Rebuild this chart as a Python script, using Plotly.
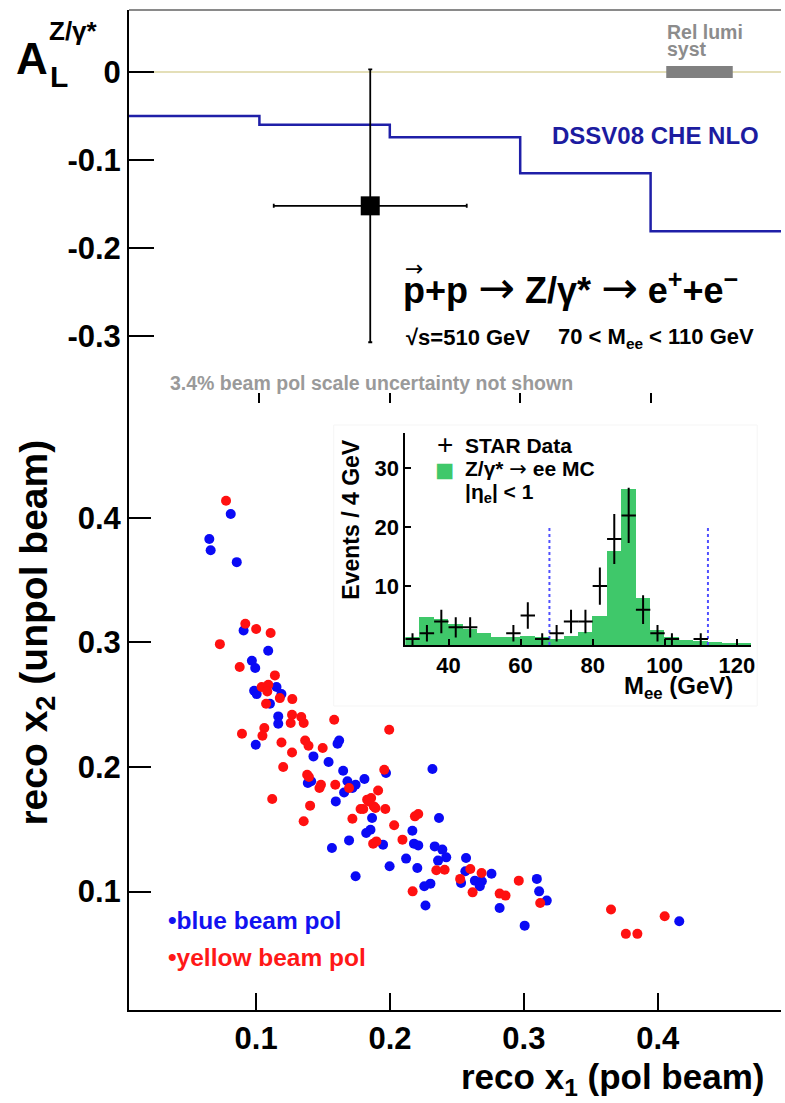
import plotly.graph_objects as go

# ---------------- data ----------------
# top panel: A_L measurement
al_x = [0.185]
al_y = [-0.152]
al_xerr = [0.074]
al_yerr = [0.155]

# DSSV08 CHE NLO theory steps
theory_edges = [0.0, 0.1, 0.2, 0.3, 0.4, 0.5]
theory_al = [-0.050, -0.060, -0.074, -0.115, -0.181]

# relative luminosity systematic band (x extent, half height around 0)
rel_lumi_x = [0.412, 0.463]
rel_lumi_half = 0.0068

# bottom panel: reco x1 vs reco x2
blue_x1 = [0.081, 0.065, 0.066, 0.0855, 0.0906, 0.109, 0.0968, 0.0993, 0.1152, 0.0985,
           0.1004, 0.1189, 0.1103, 0.1165, 0.1165, 0.0997, 0.162, 0.1608, 0.1428, 0.1541,
           0.165, 0.1386, 0.1411, 0.1682, 0.1743, 0.1719, 0.1809, 0.1657, 0.1595, 0.2317,
           0.197, 0.1866, 0.2366, 0.1854, 0.1822, 0.2167, 0.1948, 0.2179, 0.2211, 0.2334,
           0.2391, 0.242, 0.2359, 0.212, 0.1997, 0.2204, 0.2568, 0.2563, 0.2758, 0.2531,
           0.2634, 0.2686, 0.2671, 0.2302, 0.2256, 0.3097, 0.3114, 0.3171, 0.2265, 0.2819,
           0.3006, 0.1566, 0.1694, 0.1743, 0.4161]
blue_x2 = [0.403, 0.383, 0.374, 0.3644, 0.3095, 0.2933, 0.2852, 0.2794, 0.2642, 0.2612,
           0.2585, 0.2585, 0.2508, 0.2406, 0.2347, 0.2179, 0.2213, 0.2187, 0.2085, 0.204,
           0.197, 0.1872, 0.1885, 0.1885, 0.1858, 0.1832, 0.1904, 0.1796, 0.1724, 0.1984,
           0.1952, 0.1591, 0.1591, 0.1497, 0.1471, 0.1489, 0.1377, 0.1385, 0.1371, 0.1363,
           0.1337, 0.1275, 0.1249, 0.1265, 0.1203, 0.119, 0.127, 0.1163, 0.1144, 0.107,
           0.1088, 0.1083, 0.1043, 0.1064, 0.1043, 0.1102, 0.1002, 0.0928, 0.0888, 0.0869,
           0.0727, 0.135, 0.1411, 0.1123, 0.0762]

red_x1 = [0.0775, 0.0919, 0.100, 0.1108, 0.0729, 0.0877, 0.114, 0.1041, 0.1091, 0.1083,
          0.1177, 0.127, 0.1074, 0.1268, 0.1337, 0.1355, 0.1258, 0.1583, 0.1061, 0.1047,
          0.0894, 0.1189, 0.1366, 0.1391, 0.1268, 0.1497, 0.1202, 0.1381, 0.1394, 0.1484,
          0.1473, 0.1591, 0.1694, 0.112, 0.1403, 0.178, 0.1719, 0.1355, 0.1994, 0.1957,
          0.1911, 0.1829, 0.1859, 0.1842, 0.180, 0.1879, 0.1891, 0.1965, 0.2186, 0.2211,
          0.2031, 0.2093, 0.1874, 0.1898, 0.2346, 0.2408, 0.260, 0.2684, 0.2524, 0.2169,
          0.2617, 0.2819, 0.2863, 0.2962, 0.3122, 0.3651, 0.3762, 0.3848, 0.4052]
red_x2 = [0.4136, 0.3149, 0.3107, 0.3075, 0.2986, 0.2802, 0.2735, 0.2642, 0.266, 0.2606,
          0.2553, 0.2545, 0.2508, 0.2419, 0.2401, 0.2353, 0.2353, 0.2379, 0.2313, 0.2251,
          0.2267, 0.2197, 0.2213, 0.2171, 0.2117, 0.2152, 0.200, 0.1938, 0.192, 0.1858,
          0.1832, 0.1858, 0.1832, 0.1743, 0.169, 0.1663, 0.1585, 0.1564, 0.2299, 0.1978,
          0.1812, 0.1738, 0.1751, 0.1724, 0.1663, 0.1684, 0.1671, 0.1663, 0.1604, 0.1623,
          0.1532, 0.1417, 0.1385, 0.1403, 0.1171, 0.1176, 0.1182, 0.115, 0.1102, 0.1002,
          0.0994, 0.0984, 0.0968, 0.1088, 0.0909, 0.0856, 0.0661, 0.0661, 0.0802]

# inset: invariant mass
mc_bin_left = [28, 32, 36, 40, 44, 48, 52, 56, 60, 64, 68, 72,
               76, 80, 84, 88, 92, 96, 100, 104, 108, 112, 116, 120]
mc_counts = [1.4, 4.8, 4.5, 3.6, 2.8, 2.0, 1.3, 1.3, 1.5, 1.3, 1.1, 1.5,
             2.2, 5.0, 16.0, 26.5, 8.0, 2.5, 1.3, 0.8, 0.6, 0.5, 0.4, 0.3]
bin_width = 4
data_mass = [30, 34, 38, 42, 46, 58, 62, 66, 70, 74, 78, 82, 86, 90, 94, 98, 102, 110]
data_counts = [1, 2, 4, 3, 3, 2, 5, 1, 2, 4, 4, 10, 18, 22, 6, 2, 1, 1]
data_err = [1.0, 1.41, 2.0, 1.73, 1.73, 1.41, 2.24, 1.0, 1.41, 2.0, 2.0, 3.16, 4.24, 4.69,
            2.45, 1.41, 1.0, 1.0]
mass_cut_lines = [68, 112]
mass_cut_top = 20

x_ticks = [0.1, 0.2, 0.3, 0.4]
al_ticks = [0, -0.1, -0.2, -0.3]
al_ticktext = ["0", "-0.1", "-0.2", "-0.3"]
x2_ticks = [0.1, 0.2, 0.3, 0.4]
inset_xticks = [40, 60, 80, 100, 120]
inset_yticks = [10, 20, 30]

# ---------------- layout geometry ----------------
W, H = 785, 1103
ML, MR, MT, MB = 129, 0, 10, 93
PW, PH = W - ML - MR, H - MT - MB
FONT = "Liberation Sans"
ARROWFONT = "DejaVu Sans"
GREEN = "#3fc86a"


def px2paper(px, py):
    return (px - ML) / PW, (H - MB - py) / PH


def arrow(size=None):
    if size:
        return ('<span style="font-family:%s;font-weight:normal;font-size:%dpx">→</span>'
                % (ARROWFONT, size))
    return '<span style="font-family:%s;font-weight:normal">→</span>' % ARROWFONT


fig = go.Figure()

# zero line (top panel)
fig.add_trace(go.Scatter(x=[theory_edges[0], theory_edges[-1]], y=[0, 0], mode="lines",
                         line=dict(color="#e4dfb8", width=2), xaxis="x", yaxis="y",
                         showlegend=False, hoverinfo="skip"))
# rel lumi band
fig.add_trace(go.Scatter(x=[rel_lumi_x[0], rel_lumi_x[1], rel_lumi_x[1], rel_lumi_x[0], rel_lumi_x[0]],
                         y=[-rel_lumi_half, -rel_lumi_half, rel_lumi_half, rel_lumi_half, -rel_lumi_half],
                         fill="toself", fillcolor="#808080", mode="none",
                         xaxis="x", yaxis="y", showlegend=False))
# theory step line
fig.add_trace(go.Scatter(x=theory_edges, y=theory_al + [theory_al[-1]], mode="lines",
                         line=dict(color="#1f1fa8", width=2.5, shape="hv"),
                         xaxis="x", yaxis="y", showlegend=False))
# A_L point
fig.add_trace(go.Scatter(x=al_x, y=al_y, mode="markers",
                         marker=dict(symbol="square", size=19, color="black"),
                         error_x=dict(type="data", array=al_xerr, color="black", thickness=1.8, width=2),
                         error_y=dict(type="data", array=al_yerr, color="black", thickness=1.8, width=2),
                         xaxis="x", yaxis="y", showlegend=False))

# scatter
fig.add_trace(go.Scatter(x=blue_x1, y=blue_x2, mode="markers",
                         marker=dict(color="#0a0af5", size=10), xaxis="x2", yaxis="y2",
                         showlegend=False))
fig.add_trace(go.Scatter(x=red_x1, y=red_x2, mode="markers",
                         marker=dict(color="#ff1010", size=10), xaxis="x2", yaxis="y2",
                         showlegend=False))

# inset MC histogram
fig.add_trace(go.Bar(x=[b + bin_width / 2 for b in mc_bin_left], y=mc_counts, width=bin_width,
                     marker=dict(color=GREEN, line=dict(width=0)), xaxis="x3", yaxis="y3",
                     showlegend=False))
# mass cut lines
for m in mass_cut_lines:
    fig.add_trace(go.Scatter(x=[m, m], y=[0, mass_cut_top], mode="lines",
                             line=dict(color="#5050ff", width=2, dash="dot"),
                             xaxis="x3", yaxis="y3", showlegend=False))
# data crosses
fig.add_trace(go.Scatter(x=data_mass, y=data_counts, mode="markers",
                         marker=dict(size=1, color="black"),
                         error_x=dict(type="constant", value=bin_width / 2, color="black", thickness=2, width=0),
                         error_y=dict(type="data", array=data_err, color="black", thickness=2, width=0),
                         xaxis="x3", yaxis="y3", showlegend=False))

tickfont_big = dict(family=FONT, size=31, color="black", weight="bold")
tickfont_small = dict(family=FONT, size=22, color="black", weight="bold")

top_lo, top_hi = -0.376, 0.0705
bot_range = [0.005, 0.4921]
split = px2paper(0, 403)[1]

ix0, iy0 = px2paper(407, 645)
ix1, iy1 = px2paper(755, 433)

fig.update_layout(
    width=W, height=H, margin=dict(l=ML, r=MR, t=MT, b=MB),
    paper_bgcolor="white", plot_bgcolor="white",
    bargap=0,
    xaxis=dict(domain=[0, 1], anchor="y", range=[0, 0.5], showline=False, showgrid=False,
               zeroline=False, ticks="inside", ticklen=10, tickwidth=1.5, tickcolor="black",
               tickvals=x_ticks, showticklabels=False),
    yaxis=dict(domain=[split, 1], anchor="x", range=[top_lo, top_hi], showline=True,
               linecolor="black", linewidth=2, showgrid=False, zeroline=False,
               ticks="inside", ticklen=25, tickwidth=1.5, tickcolor="black",
               tickvals=al_ticks, ticktext=al_ticktext, tickfont=tickfont_big),
    xaxis2=dict(domain=[0, 1], anchor="y2", range=bot_range, showline=True, linecolor="black",
                linewidth=2, showgrid=False, zeroline=False, ticks="inside", ticklen=17,
                tickwidth=1.5, tickcolor="black", tickvals=x2_ticks,
                ticktext=["0.1", "0.2", "0.3", "0.4"], tickfont=tickfont_big),
    yaxis2=dict(domain=[0, split], anchor="x2", range=bot_range, showline=True, linecolor="black",
                linewidth=2, showgrid=False, zeroline=False, ticks="inside", ticklen=22,
                tickwidth=1.5, tickcolor="black", tickvals=x2_ticks,
                ticktext=["0.1", "0.2", "0.3", "0.4"], tickfont=tickfont_big),
    xaxis3=dict(domain=[ix0, ix1], anchor="y3", range=[28, 124], showline=True, linecolor="black",
                linewidth=2, showgrid=False, zeroline=False, ticks="inside", ticklen=6,
                tickwidth=1.5, tickcolor="black", tickvals=inset_xticks, tickfont=tickfont_small),
    yaxis3=dict(domain=[iy0, iy1], anchor="x3", range=[0, 36], showline=True, linecolor="black",
                linewidth=2, showgrid=False, zeroline=False, ticks="inside", ticklen=6,
                tickwidth=1.5, tickcolor="black", tickvals=inset_yticks, tickfont=tickfont_small),
)

# top frame line of upper panel
fig.add_shape(type="line", xref="paper", yref="paper", x0=0, x1=1, y0=1, y1=1,
              line=dict(color="#8a8a8a", width=2))
# very faint frame of the inset pad
fx0, fy0 = px2paper(335, 706)
fx1, fy1 = px2paper(761, 425)
fig.add_shape(type="rect", xref="paper", yref="paper", x0=fx0, x1=fx1, y0=fy0, y1=fy1,
              line=dict(color="#f5f5f5", width=1), layer="below")

annotations = []


def ann(text, px, py_base, size, color="black", anchor="left", weight="bold", angle=0):
    x, y = px2paper(px, py_base - 0.33 * size)
    annotations.append(dict(text=text, x=x, y=y, xref="paper", yref="paper", xanchor=anchor,
                            yanchor="middle", showarrow=False, textangle=angle,
                            font=dict(family=FONT, size=size, color=color, weight=weight)))


# A_L label
ann("A", 13, 73, 44)
ann("L", 48, 86, 30)
ann("Z/γ*", 46, 40, 26)
ann("Rel lumi", 668, 38, 19.5, "#8c8c8c")
ann("syst", 668, 55, 19.5, "#8c8c8c")
ann("DSSV08 CHE NLO", 553, 143, 24, "#1c1ca0")
ann("p+p " + arrow(44) + " Z/γ* " + arrow(44) + " e<sup>+</sup>+e<sup>−</sup>", 403, 299, 36)
ann('<span style="font-family:DejaVu Sans;font-weight:normal">→</span>', 405, 276, 22, weight="normal")
ann("√s=510 GeV", 406, 345, 22)
ann("70 < M<sub>ee</sub> < 110 GeV", 559, 345, 22)
ann("3.4% beam pol scale uncertainty not shown", 168, 389, 19.5, "#9a9a9a")
ann("•blue beam pol", 166, 929, 24.5, "#1212f0")
ann("•yellow beam pol", 166, 966, 24.5, "#ff1818")
# inset legend
ann("+", 437, 454, 28, weight="normal")
ann("STAR Data", 465, 452, 21)
ann("■", 435, 481, 32, GREEN, weight="normal")
ann("Z/γ* " + arrow() + " ee MC", 465, 476, 21)
ann("|η<sub>e</sub>| < 1", 465, 500, 21)
# inset axis titles
annotations.append(dict(text="Events / 4 GeV", x=px2paper(352, 0)[0], y=px2paper(0, 520)[1],
                        xref="paper", yref="paper", xanchor="center", yanchor="middle",
                        showarrow=False, textangle=-90,
                        font=dict(family=FONT, size=23, color="black", weight="bold")))
annotations.append(dict(text="M<sub>ee</sub> (GeV)", x=px2paper(739, 0)[0], y=px2paper(0, 688)[1],
                        xref="paper", yref="paper", xanchor="right", yanchor="middle",
                        showarrow=False,
                        font=dict(family=FONT, size=24, color="black", weight="bold")))
# main axis titles
annotations.append(dict(text="reco x<sub>1</sub> (pol beam)", x=px2paper(770, 0)[0], y=px2paper(0, 1079)[1],
                        xref="paper", yref="paper", xanchor="right", yanchor="middle",
                        showarrow=False,
                        font=dict(family=FONT, size=35, color="black", weight="bold")))
annotations.append(dict(text="reco x<sub>2</sub> (unpol beam)", x=px2paper(35, 0)[0], y=px2paper(0, 633)[1],
                        xref="paper", yref="paper", xanchor="center", yanchor="middle",
                        showarrow=False, textangle=-90,
                        font=dict(family=FONT, size=39, color="black", weight="bold")))

fig.update_layout(annotations=annotations)

fig.write_html("out.html")
